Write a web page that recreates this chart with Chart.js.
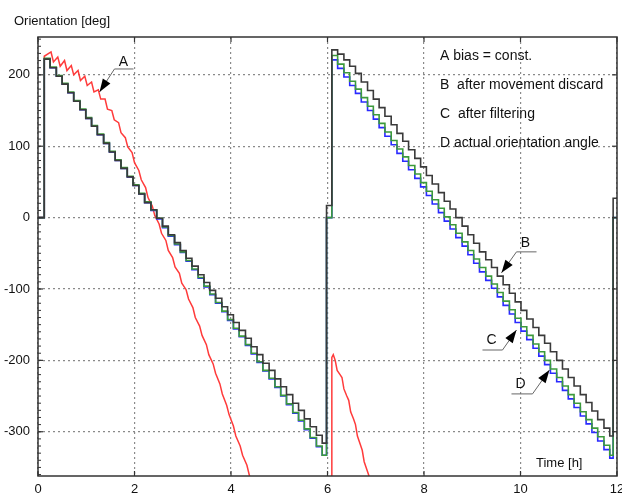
<!DOCTYPE html>
<html>
<head>
<meta charset="utf-8">
<script src="https://cdn.jsdelivr.net/npm/chart.js@4/dist/chart.umd.min.js"></script>
<style>
  html, body { margin: 0; padding: 0; background: #fff; }
  #wrap { width: 622px; height: 497px; position: relative; }
</style>
</head>
<body>
<div id="wrap"><canvas id="c" width="622" height="497"></canvas></div>
<script>
// ---- data ----
const xTicks = [0, 2, 4, 6, 8, 10, 12];
const yTicks = [-300, -200, -100, 0, 100, 200];

// time of each step (h)
const hours = [0,
  0.13,0.25,0.38,0.50,0.62,0.74,0.87,0.99,1.11,1.23,1.36,1.48,1.60,1.72,1.85,1.97,2.09,2.21,2.34,2.46,2.58,2.70,2.83,2.95,3.07,3.19,3.32,3.44,3.56,3.68,3.81,3.93,4.05,4.17,4.30,4.42,4.54,4.66,4.79,4.91,5.03,5.15,5.28,5.40,5.52,5.64,5.77,5.89,
  5.98,
  6.09,6.21,6.34,6.46,6.58,6.70,6.83,6.95,7.07,7.19,7.32,7.44,7.56,7.68,7.81,7.93,8.05,8.17,8.30,8.42,8.54,8.66,8.79,8.91,9.03,9.15,9.28,9.40,9.52,9.64,9.77,9.89,10.01,10.13,10.26,10.38,10.50,10.62,10.75,10.87,10.99,11.11,11.24,11.36,11.48,11.60,11.73,11.85,
  11.92, 12];

// D actual orientation angle
const actualAngle = [0,
  222,210,198,187,175,163,151,139,128,116,104,92,80,69,57,45,33,21,10,-2,-14,-26,-38,-49,-61,-73,-85,-97,-108,-120,-132,-144,-156,-167,-179,-191,-203,-215,-226,-238,-250,-262,-274,-285,-297,-309,-321,-333,
  0,
  221,209,197,185,174,162,150,138,126,114,102,90,79,67,55,43,31,19,7,-5,-16,-28,-40,-52,-64,-76,-88,-99,-111,-123,-135,-147,-159,-171,-183,-194,-206,-218,-230,-242,-254,-266,-278,-289,-301,-313,-325,-337,
  0, 0];

// C after filtering
const filteredAngle = [0,
  223,211,199,188,176,164,152,140,129,117,105,93,81,70,58,46,34,22,11,-1,-13,-25,-37,-48,-60,-72,-84,-96,-107,-119,-131,-143,-155,-166,-178,-190,-202,-214,-225,-237,-249,-261,-273,-284,-296,-308,-320,-333,
  0,
  227,215,203,191,180,168,156,144,132,120,108,96,85,73,61,49,37,25,13,1,-10,-22,-34,-46,-58,-70,-82,-93,-105,-117,-129,-141,-153,-165,-177,-188,-200,-212,-224,-236,-248,-260,-272,-283,-295,-307,-319,-333,
  0, 0];

// B after movement discard
const discardAngle = [0,
  222,210,198,187,175,163,151,139,128,116,104,92,80,69,57,45,33,21,11,-1,-12,-24,-35,-46,-57,-68,-80,-91,-102,-113,-125,-136,-147,-158,-169,-181,-192,-204,-214,-226,-237,-248,-260,-270,-282,-293,-305,-316,
  17,
  235,229,221,212,202,190,178,166,154,142,130,118,107,95,83,71,59,47,35,23,12,0,-12,-24,-36,-48,-59,-70,-82,-94,-106,-118,-130,-142,-154,-165,-176,-188,-200,-212,-224,-236,-248,-259,-271,-283,-295,-306,
  27, 27];

// A bias = const. (traced line, null = gap)
const biasHours = [0,0.13,0.13,0.27,0.32,0.41,0.46,0.55,0.60,0.69,0.74,0.83,0.88,0.97,1.02,1.11,1.16,1.25,1.30,1.39,1.44,1.53,1.58,1.67,1.72,1.81,1.86,1.95,2.00,2.09,2.14,2.23,2.28,2.37,2.42,2.51,2.56,2.65,2.70,2.79,2.84,2.93,2.98,3.07,3.12,3.21,3.26,3.35,3.40,3.49,3.54,3.63,3.68,3.77,3.82,3.91,3.96,4.05,4.10,4.19,4.24,4.33,4.38,4.47,
  5.0,
  6.09,6.09,6.12,6.16,6.20,6.26,6.30,6.34,6.40,6.44,6.48,6.54,6.58,6.62,6.68,6.72,6.76,6.82,6.86,6.90];
const biasAngle = [0,0,226,232,218,225,212,220,206,213,200,206,192,198,185,190,176,179,166,166,152,150,137,133,119,112,99,91,77,66,53,42,28,16,3,-9,-22,-32,-46,-56,-69,-78,-92,-101,-114,-126,-140,-152,-165,-178,-192,-205,-218,-233,-247,-263,-276,-292,-306,-320,-333,-347,-361,-375,
  null,
  -420,-196,-192,-200,-214,-220,-224,-240,-250,-256,-272,-282,-290,-306,-318,-326,-342,-354,-362,-378];

const legendLines = ['A bias = const.', 'B  after movement discard', 'C  after filtering', 'D actual orientation angle'];
const calloutLabels = ['A', 'B', 'C', 'D'];

// ---- styling / layout ----
const FONT = '"Liberation Sans", Arial, Helvetica, sans-serif';
const callouts = [
  { text: [1.772, 218], path: [[1.979, 208.2], [1.585, 208.2], [1.275, 176]] },
  { text: [10.10, -35.6], path: [[10.332, -48], [9.917, -48], [9.606, -77.4]] },
  { text: [9.399, -171.5], path: [[9.212, -185.5], [9.627, -185.5], [9.917, -157.5]] },
  { text: [10.0, -233], path: [[9.813, -247], [10.249, -247], [10.6, -213.5]] }
];

function series(vals) { return hours.map((h, i) => ({ x: h, y: vals[i] })); }

const decor = {
  id: 'decor',
  afterDraw(chart) {
    const { ctx, chartArea: a, scales: { x, y } } = chart;
    ctx.save();
    const line = (x1, y1, x2, y2) => { ctx.beginPath(); ctx.moveTo(x1, y1); ctx.lineTo(x2, y2); ctx.stroke(); };
    // frame
    ctx.strokeStyle = '#333';
    ctx.lineWidth = 1.5;
    ctx.strokeRect(a.left, a.top, a.right - a.left, a.bottom - a.top);
    // major ticks (inward)
    ctx.lineWidth = 1.2;
    xTicks.forEach(v => {
      const px = x.getPixelForValue(v);
      line(px, a.bottom, px, a.bottom - 5);
      line(px, a.top, px, a.top + 5);
    });
    yTicks.forEach(v => {
      const py = y.getPixelForValue(v);
      line(a.left, py, a.left + 5, py);
      line(a.right, py, a.right - 5, py);
    });
    // minor ticks on the left axis
    ctx.lineWidth = 1;
    for (let v = -360; v <= 250; v += 10) {
      const py = y.getPixelForValue(v);
      if (py > a.top + 1 && py < a.bottom - 1) line(a.left, py, a.left + 3, py);
    }
    // texts
    ctx.fillStyle = '#111';
    ctx.textBaseline = 'middle';
    ctx.textAlign = 'left';
    ctx.font = '13px ' + FONT;
    ctx.fillText('Orientation [deg]', 14, 21);
    ctx.fillText('Time [h]', 536, 463);
    ctx.font = '14px ' + FONT;
    legendLines.forEach((t, i) => ctx.fillText(t, 440, 56 + i * 29));
    // callouts
    callouts.forEach((c, i) => {
      ctx.fillStyle = '#111';
      ctx.textAlign = 'center';
      ctx.font = '14px ' + FONT;
      ctx.fillText(calloutLabels[i], x.getPixelForValue(c.text[0]), y.getPixelForValue(c.text[1]));
      const pts = c.path.map(p => [x.getPixelForValue(p[0]), y.getPixelForValue(p[1])]);
      ctx.strokeStyle = '#666';
      ctx.lineWidth = 1;
      ctx.beginPath();
      ctx.moveTo(pts[0][0], pts[0][1]);
      for (let k = 1; k < pts.length; k++) ctx.lineTo(pts[k][0], pts[k][1]);
      ctx.stroke();
      const tip = pts[pts.length - 1], prev = pts[pts.length - 2];
      const ang = Math.atan2(tip[1] - prev[1], tip[0] - prev[0]);
      const L = 13, W = 4.5;
      const bx = tip[0] - L * Math.cos(ang), by = tip[1] - L * Math.sin(ang);
      ctx.fillStyle = '#000';
      ctx.beginPath();
      ctx.moveTo(tip[0], tip[1]);
      ctx.lineTo(bx + W * Math.sin(ang), by - W * Math.cos(ang));
      ctx.lineTo(bx - W * Math.sin(ang), by + W * Math.cos(ang));
      ctx.closePath();
      ctx.fill();
    });
    ctx.restore();
  }
};

new Chart(document.getElementById('c'), {
  type: 'line',
  data: {
    datasets: [
      { label: 'B', data: series(discardAngle), borderColor: '#3a3a3a', borderWidth: 1.6, stepped: 'before', pointRadius: 0, fill: false },
      { label: 'C', data: series(filteredAngle), borderColor: '#3c9a3c', borderWidth: 1.6, stepped: 'before', pointRadius: 0, fill: false },
      { label: 'D', data: series(actualAngle), borderColor: '#2a2aff', borderWidth: 1.6, stepped: 'before', pointRadius: 0, fill: false },
      { label: 'A', data: biasHours.map((h, i) => ({ x: h, y: biasAngle[i] })), borderColor: '#ff3b3b', borderWidth: 1.5, pointRadius: 0, fill: false, tension: 0, spanGaps: false, clip: 0 }
    ]
  },
  options: {
    responsive: false,
    devicePixelRatio: 1,
    animation: false,
    layout: { padding: { left: 0, top: 37, right: 5, bottom: 0 } },
    plugins: { legend: { display: false }, tooltip: { enabled: false }, title: { display: false } },
    scales: {
      x: {
        type: 'linear', min: 0, max: 12,
        afterBuildTicks: s => { s.ticks = xTicks.map(v => ({ value: v })); },
        afterFit: s => { s.height = 21; s.paddingLeft = 0; s.paddingRight = 0; },
        ticks: { autoSkip: false, maxRotation: 0, padding: 6, color: '#111', font: { family: FONT, size: 13 } },
        grid: { color: '#8a8a8a', lineWidth: 1.2, drawTicks: false },
        border: { display: false, dash: [2, 3] }
      },
      y: {
        type: 'linear', min: -362, max: 253,
        afterBuildTicks: s => { s.ticks = yTicks.map(v => ({ value: v })); },
        afterFit: s => { s.width = 38; s.paddingTop = 0; s.paddingBottom = 0; },
        ticks: { padding: 8, color: '#111', font: { family: FONT, size: 13 } },
        grid: { color: '#8a8a8a', lineWidth: 1.2, drawTicks: false },
        border: { display: false, dash: [2, 3] }
      }
    }
  },
  plugins: [decor]
});
</script>
</body>
</html>
